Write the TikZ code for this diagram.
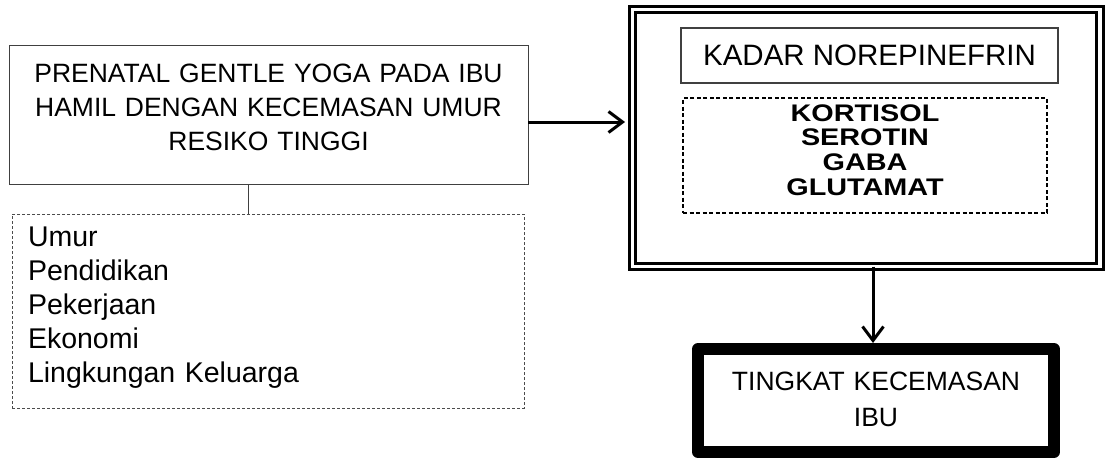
\documentclass[tikz,border=0pt]{standalone}
\usepackage{fontspec}
\setmainfont{Liberation Sans}
\newfontfamily\widebold[FakeStretch=1.2]{Liberation Sans}
\usepackage{tikz}
\usetikzlibrary{arrows.meta}

\begin{document}
\begin{tikzpicture}[x=1pt,y=-1pt,outer sep=0pt,
    box/.style={draw=black!75,line width=1pt,inner xsep=0pt,align=center},
    arrow/.style={line width=3pt,-{Straight Barb[length=14pt,width=21pt]}}]
  \useasboundingbox (0,0) rectangle (1105,459);
  \fill[white] (0,0) rectangle (1105,459);
  % left column
  \node[box,anchor=north west,text width=519pt,inner ysep=18pt,text height=19pt,text depth=84pt,
    font=\fontsize{26.5}{34}\selectfont] (yoga) at (9,45)
    {PRENATAL GENTLE YOGA PADA IBU\\HAMIL DENGAN KECEMASAN UMUR\\RESIKO TINGGI};
  \node[box,draw=black!70,dash pattern=on 3.3pt off 1.7pt,align=left,anchor=north west,
    text width=480pt,inner xsep=16pt,inner ysep=12pt,text height=20.5pt,text depth=149.5pt,
    font=\fontsize{28.5}{33.9}\selectfont] (faktor) at (12,214)
    {Umur\\Pendidikan\\Pekerjaan\\Ekonomi\\Lingkungan Keluarga};
  % right column
  \node[draw,line width=3pt,double,double distance=3.5pt,minimum width=467.5pt,
    minimum height=257pt,inner sep=0pt] (hormon) at (866.25,138) {};
  \node[box,line width=1.2pt,minimum width=377pt,minimum height=55pt,inner sep=0pt,
    font=\fontsize{29.5}{34}\selectfont] (nore) at (869.5,55.5) {KADAR NOREPINEFRIN};
  \node[draw,dash pattern=on 4pt off 2.5pt,line width=1.5pt,anchor=north,text width=364pt,
    inner xsep=0pt,inner ysep=6pt,text height=17pt,text depth=86pt,align=center,
    font=\widebold\bfseries\fontsize{24}{24.7}\selectfont] (neuro) at (865,98)
    {KORTISOL\\SEROTIN\\GABA\\GLUTAMAT};
  \node[draw,line width=12pt,line join=round,anchor=north west,text width=356pt,inner xsep=0pt,
    inner ysep=22.5pt,text height=19pt,text depth=39pt,align=center,
    font=\fontsize{26.5}{35.5}\selectfont] (cemas) at (698,349) {TINGKAT KECEMASAN\\IBU};
  % connectors
  \draw[line width=1pt,black!75] ([xshift=-20.5pt]yoga.south) -- ([xshift=-20.5pt]yoga.south |- faktor.north);
  \draw[arrow,shorten >=7.5pt] ([yshift=-7.5pt]yoga.east) -- ([yshift=-7.5pt]yoga.east -| hormon.west);
  \draw[arrow,shorten >=6pt] ([xshift=-3pt]cemas.north |- hormon.south) -- ([xshift=-3pt]cemas.north);
\end{tikzpicture}
\end{document}
